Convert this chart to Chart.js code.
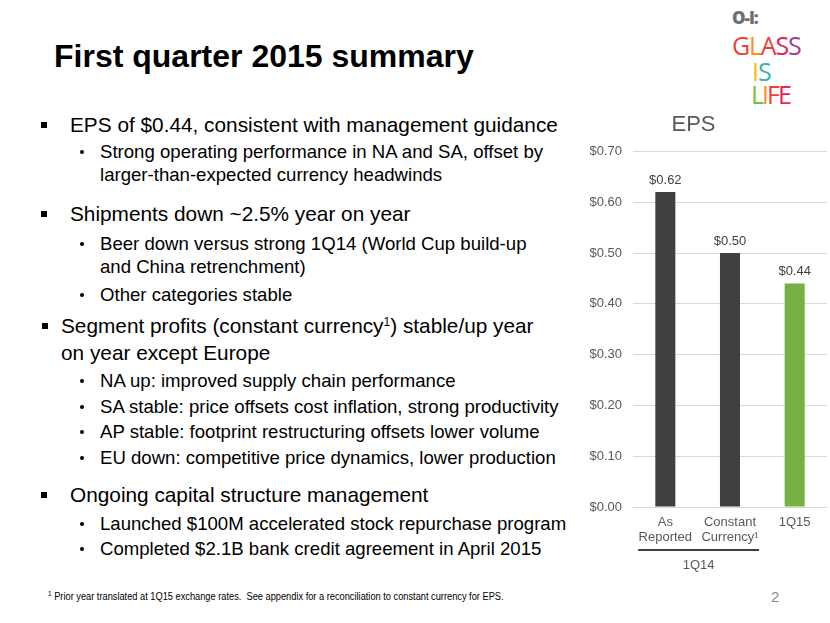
<!DOCTYPE html>
<html>
<head>
<meta charset="utf-8">
<script src="https://cdn.jsdelivr.net/npm/chart.js@4.4.1/dist/chart.umd.min.js"></script>
<style>
  html,body{margin:0;padding:0;background:#fff;}
  body{width:830px;height:623px;position:relative;overflow:hidden;font-family:"Liberation Sans",Arial,sans-serif;color:#000;}
  .abs{position:absolute;white-space:nowrap;}
  .title{left:54px;top:40px;font-size:32px;line-height:32px;font-weight:bold;}
  .main{font-size:20.8px;line-height:24px;}
  .sub{font-size:18.6px;line-height:22px;}
  .sq{position:absolute;width:6px;height:6px;background:#000;}
  .dot{position:absolute;width:4px;height:4px;border-radius:50%;background:#000;}
  sup{font-size:12px;line-height:0;vertical-align:7px;}
  .foot{left:48px;top:591px;font-size:10px;line-height:12px;color:#000;transform:scaleX(0.925);transform-origin:0 0;}
  .page{left:771px;top:588px;font-size:15px;line-height:18px;color:#8c8c8c;}
  .logo{font-family:"Open Sans","Liberation Sans",sans-serif;font-weight:400;}
  #chartBox{position:absolute;left:560px;top:100px;width:270px;height:480px;}
</style>
</head>
<body>
<div class="abs title">First quarter 2015 summary</div>

<!-- logo -->
<div class="abs logo" style="left:732px;top:8px;font-size:17px;line-height:20px;font-weight:800;color:#6d6e70;letter-spacing:-1px;">O-I:</div>
<div class="abs logo" style="left:732px;top:31px;font-size:25px;line-height:28px;letter-spacing:-1.2px;"><span style="color:#ef4036">G</span><span style="color:#f7941d">L</span><span style="color:#ee3b3a">A</span><span style="color:#e5264f">S</span><span style="color:#9e3f97">S</span></div>
<div class="abs logo" style="left:752px;top:57px;font-size:25px;line-height:28px;letter-spacing:-1px;"><span style="color:#f9bc15">I</span><span style="color:#39b7b0">S</span></div>
<div class="abs logo" style="left:751px;top:80px;font-size:25px;line-height:28px;letter-spacing:-2px;"><span style="color:#79bd43">L</span><span style="color:#f7941d">I</span><span style="color:#ef4036">F</span><span style="color:#e5264f">E</span></div>

<!-- bullets -->
<div class="sq" style="left:41px;top:122px;"></div>
<div class="abs main" style="left:70px;top:113px;">EPS of $0.44, consistent with management guidance</div>
<div class="dot" style="left:80px;top:150px;"></div>
<div class="abs sub" style="left:100px;top:141px;">Strong operating performance in NA and SA, offset by</div>
<div class="abs sub" style="left:100px;top:164px;">larger-than-expected currency headwinds</div>

<div class="sq" style="left:41px;top:211px;"></div>
<div class="abs main" style="left:70px;top:202px;">Shipments down ~2.5% year on year</div>
<div class="dot" style="left:80px;top:242px;"></div>
<div class="abs sub" style="left:100px;top:233px;">Beer down versus strong 1Q14 (World Cup build-up</div>
<div class="abs sub" style="left:100px;top:256px;">and China retrenchment)</div>
<div class="dot" style="left:80px;top:293px;"></div>
<div class="abs sub" style="left:100px;top:284px;">Other categories stable</div>

<div class="sq" style="left:42px;top:323px;"></div>
<div class="abs main" style="left:61px;top:314px;">Segment profits (constant currency<sup>1</sup>) stable/up year</div>
<div class="abs main" style="left:61px;top:341px;">on year except Europe</div>
<div class="dot" style="left:80px;top:379px;"></div>
<div class="abs sub" style="left:100px;top:370px;">NA up: improved supply chain performance</div>
<div class="dot" style="left:80px;top:405px;"></div>
<div class="abs sub" style="left:100px;top:396px;">SA stable: price offsets cost inflation, strong productivity</div>
<div class="dot" style="left:80px;top:430px;"></div>
<div class="abs sub" style="left:100px;top:421px;">AP stable: footprint restructuring offsets lower volume</div>
<div class="dot" style="left:80px;top:456px;"></div>
<div class="abs sub" style="left:100px;top:447px;">EU down: competitive price dynamics, lower production</div>

<div class="sq" style="left:41px;top:492px;"></div>
<div class="abs main" style="left:70px;top:483px;">Ongoing capital structure management</div>
<div class="dot" style="left:80px;top:522px;"></div>
<div class="abs sub" style="left:100px;top:513px;">Launched $100M accelerated stock repurchase program</div>
<div class="dot" style="left:80px;top:547px;"></div>
<div class="abs sub" style="left:100px;top:538px;">Completed $2.1B bank credit agreement in April 2015</div>

<div class="abs foot"><sup style="font-size:7px;vertical-align:4px;">1</sup> Prior year translated at 1Q15 exchange rates.&nbsp; See appendix for a reconciliation to constant currency for EPS.</div>
<div class="abs page">2</div>

<div id="chartBox"><canvas id="c"></canvas></div>

<script>
// ---- data ----
const categories = [["As", "Reported"], ["Constant", "Currency\u00B9"], "1Q15"];
const epsValues = [0.62, 0.50, 0.44];
const barColors = ["#404040", "#404040", "#77b043"];
const groupLabel = "1Q14";
const groupMembers = [0, 1];
const chartTitle = "EPS";
const yMin = 0, yMax = 0.7, yStep = 0.1;

const valueLabels = {
  id: "valueLabels",
  afterDatasetsDraw(chart) {
    const ctx = chart.ctx;
    const meta = chart.getDatasetMeta(0);
    ctx.save();
    ctx.font = "13px 'Liberation Sans', Arial, sans-serif";
    ctx.fillStyle = "#404040";
    ctx.textAlign = "center";
    ctx.textBaseline = "middle";
    meta.data.forEach((bar, i) => {
      ctx.fillText("$" + epsValues[i].toFixed(2), bar.x, bar.y - 12);
    });
    ctx.restore();
  }
};

const groupBracket = {
  id: "groupBracket",
  afterDraw(chart) {
    const ctx = chart.ctx;
    const xs = chart.scales.x;
    const step = xs.getPixelForValue(1) - xs.getPixelForValue(0);
    const x0 = xs.getPixelForValue(groupMembers[0]) - step * 0.42;
    const x1 = xs.getPixelForValue(groupMembers[groupMembers.length - 1]) + step * 0.45;
    const y = xs.top + 43;
    ctx.save();
    ctx.strokeStyle = "#404040";
    ctx.lineWidth = 2;
    ctx.beginPath();
    ctx.moveTo(x0, y);
    ctx.lineTo(x1, y);
    ctx.stroke();
    ctx.font = "13px 'Liberation Sans', Arial, sans-serif";
    ctx.fillStyle = "#595959";
    ctx.textAlign = "center";
    ctx.textBaseline = "middle";
    ctx.fillText(groupLabel, (x0 + x1) / 2, xs.top + 58);
    ctx.restore();
  }
};

new Chart(document.getElementById("c"), {
  type: "bar",
  data: {
    labels: categories,
    datasets: [{
      data: epsValues,
      backgroundColor: barColors,
      borderWidth: 0,
      barPercentage: 0.31,
      categoryPercentage: 1.0
    }]
  },
  options: {
    responsive: true,
    maintainAspectRatio: false,
    animation: false,
    layout: { padding: { left: 0, right: 3, top: 0, bottom: 0 } },
    plugins: {
      legend: { display: false },
      tooltip: { enabled: false },
      title: {
        display: true,
        text: chartTitle,
        color: "#595959",
        font: { family: "'Liberation Sans', Arial, sans-serif", size: 22, weight: "normal" },
        padding: { top: 12, bottom: 13 }
      }
    },
    scales: {
      x: {
        grid: { display: false, drawTicks: false },
        border: { display: false },
        ticks: {
          color: "#595959",
          padding: 8,
          maxRotation: 0,
          autoSkip: false,
          font: { family: "'Liberation Sans', Arial, sans-serif", size: 13, lineHeight: 1.15 }
        },
        afterFit(scale) { scale.height = 73; }
      },
      y: {
        min: yMin,
        max: yMax,
        grid: { color: "#d9d9d9", drawTicks: false },
        border: { display: false },
        ticks: {
          stepSize: yStep,
          padding: 11,
          color: "#595959",
          font: { family: "'Liberation Sans', Arial, sans-serif", size: 13 },
          callback: (v) => "$" + Number(v).toFixed(2)
        },
        afterFit(scale) { scale.width = 73; }
      }
    }
  },
  plugins: [valueLabels, groupBracket]
});
</script>
</body>
</html>
